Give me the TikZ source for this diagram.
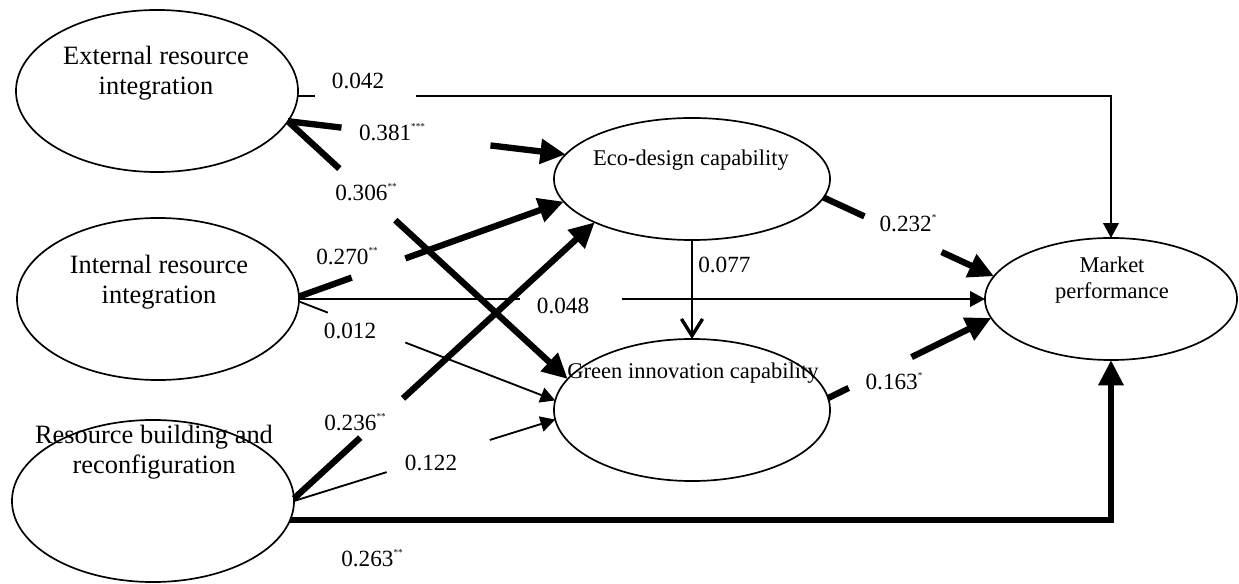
\documentclass[tikz,border=0pt]{standalone}
\usepackage{fontspec}
\setmainfont{Liberation Serif}
\usetikzlibrary{arrows.meta,shapes.geometric}
\newcommand{\sig}[1]{\raisebox{0.45em}{\fontsize{6.5}{7}\selectfont #1}}

\begin{document}
\begin{tikzpicture}[
  x=0.025cm, y=-0.025cm,
  latent/.style={draw, ellipse, line width=1.2pt, inner sep=0pt, outer sep=0pt},
  bigtxt/.style={align=center, font=\fontsize{18.8}{21.3}\selectfont, inner sep=0pt},
  smalltxt/.style={align=center, font=\fontsize{16}{19}\selectfont, inner sep=0pt},
  coef/.style={font=\fontsize{16.5}{19}\selectfont, inner sep=0pt},
  weak/.style={-{Triangle[length=10.5pt, width=11pt]}, line width=1.3pt},
  strong/.style={-{Triangle[length=18pt, width=17pt]}, line width=4.5pt},
  gap/.style 2 args={dash pattern=on #1 off #2 on 60cm}
]
\useasboundingbox (0,0) rectangle (1239,584);

\node[latent, minimum width=7.05cm, minimum height=4.05cm] (ext) at (157,91) {};
\node[latent, minimum width=7.05cm, minimum height=4.05cm] (int) at (158,299) {};
\node[latent, minimum width=7.05cm, minimum height=4.05cm] (res) at (153,501) {};
\node[latent, minimum width=6.9cm, minimum height=3.05cm] (eco) at (692,179) {};
\node[latent, minimum width=6.9cm, minimum height=3.55cm] (green) at (692,410) {};
\node[latent, minimum width=6.3cm, minimum height=3.05cm] (mkt) at (1111,299) {};

\node[bigtxt] (extT) at (156,73) {External resource\\integration};
\node[bigtxt] (intT) at (159,282) {Internal resource\\integration};
\node[bigtxt] (resT) at (154,452) {Resource building and\\reconfiguration};
\node[smalltxt] (ecoT) at (691,160) {Eco-design capability};
\node[smalltxt] (greenT) at (693,373) {Green innovation capability};
\node[smalltxt] (mktT) at (1112,280) {Market\\performance};

\draw[weak, gap={0.425cm}{2.525cm}] (ext.-2.4) -| (mkt.north);
\draw[strong, gap={1.35cm}{3.75cm}] (ext.-13) -- (eco.169.5);
\draw[strong, gap={1.75cm}{1.9cm}] (ext.-13) -- (green.166);
\draw[strong, gap={1.4cm}{1.425cm}] (int.1) -- (eco.-170.7);
\draw[weak, gap={5.525cm}{2.55cm}] (int.east) -- (mkt.west);
\draw[weak, gap={0.775cm}{2.075cm}] (int.-1) -- (green.176);
\draw[strong, gap={2.25cm}{1.45cm}] (res.1) -- (eco.204);
\draw[weak, gap={2.425cm}{2.7cm}] (res.0) -- (green.184);
\draw[strong] (res.-8) -| (mkt.south);
\draw[strong, gap={1.125cm}{2.125cm}] (eco.-8) -- (mkt.169);
\draw[strong, gap={0.575cm}{1.75cm}] (green.5) -- (mkt.-171);
\draw[-{Straight Barb[length=12pt, width=15pt, line width=2.4pt]}, line width=1.3pt] (eco.south) -- (green.north);

\node[coef] (b042) at (358,81) {0.042};
\node[coef] (b381) at (392,132) {0.381\sig{***}};
\node[coef] (b306) at (366,192) {0.306\sig{**}};
\node[coef] (b270) at (347,256) {0.270\sig{**}};
\node[coef] (b048) at (563,306) {0.048};
\node[coef] (b012) at (350,331) {0.012};
\node[coef] (b236) at (355,422) {0.236\sig{**}};
\node[coef] (b122) at (431,463) {0.122};
\node[coef] (b263) at (372,558) {0.263\sig{**}};
\node[coef] (b232) at (908,223) {0.232\sig{*}};
\node[coef] (b163) at (894,381) {0.163\sig{*}};
\node[coef, anchor=west] (b077) at (698,265) {0.077};
\end{tikzpicture}
\end{document}
